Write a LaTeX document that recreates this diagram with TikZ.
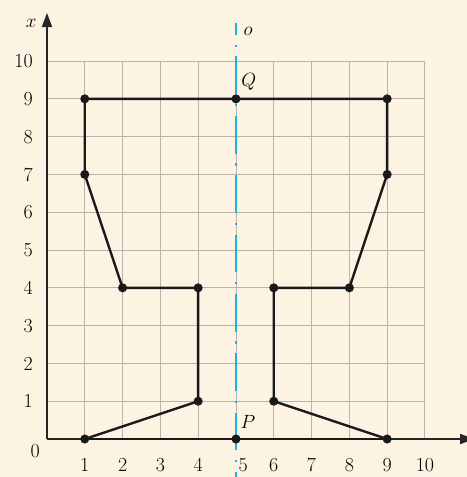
\documentclass[tikz,border=0pt]{standalone}
\usepackage{tikz}
\usetikzlibrary{arrows.meta, positioning, calc}
\definecolor{bgcream}{HTML}{FDF3E3}
\definecolor{gridgray}{HTML}{B8B4AC}
\definecolor{symcyan}{HTML}{1AB4E3}

\begin{document}
\begin{tikzpicture}[
    font=\fontsize{15}{17}\selectfont,
    gridline/.style={gridgray, line width=0.7pt},
    axisline/.style={black!85, line width=0.8pt, -{Triangle[length=0.37cm, width=0.27cm]}},
    outline/.style={black!90, line width=1.8pt, line join=round},
    vertex/.style={circle, fill=black!90, inner sep=0pt, minimum size=0.24cm},
    symline/.style={symcyan, line width=1.3pt, dash pattern=on 1cm off 0.26cm on 0.06cm off 0.25cm, dash phase=0.69cm},
    ticklabel/.style={inner sep=0pt}
]
    \fill[bgcream] (-1.243,-1.005) rectangle (11.11,11.615);
    \useasboundingbox (-1.243,-1.005) rectangle (11.11,11.615);
    % grid
    \foreach \i in {1,...,10} {
        \draw[gridline] (\i,0) -- (\i,10);
        \draw[gridline] (0,\i) -- (10,\i);
    }
    % axes
    \coordinate (origin) at (0,0);
    \coordinate (xtip) at (0,11.27);
    \coordinate (ytip) at (11.3,0);
    \draw[axisline] (origin) -- (xtip);
    \draw[axisline] (origin) -- (ytip);
    \node (xlabel) at (-0.42,11.0) {$x$};
    \foreach \i in {1,...,10}
        \node[ticklabel, anchor=east] (v\i) at (-0.37,\i) {\i};
    \foreach \i in {1,2,3,4,6,7,8,9,10}
        \node[ticklabel, anchor=base] (h\i) at (\i,-0.85) {\i};
    \node[ticklabel, anchor=base] (h5) at (5.19,-0.85) {5};
    \node[ticklabel] (zero) at (-0.31,-0.32) {0};
    % axis of symmetry
    \coordinate (otop) at (5,11.0);
    \coordinate (obot) at (5,-1.1);
    \draw[symline] (otop) -- (obot);
    \node (olabel) at (5.32,10.79) {$o$};
    % vertices
    \foreach \n/\p in {b1/{1,0}, p/{5,0}, b9/{9,0}, l1/{4,1}, r1/{6,1},
                       l4/{4,4}, l4o/{2,4}, r4/{6,4}, r4o/{8,4},
                       l7/{1,7}, r7/{9,7}, l9/{1,9}, q/{5,9}, r9/{9,9}}
        \coordinate (\n) at (\p);
    % outline
    \draw[outline] (b1) -- (p) -- (b9);
    \draw[outline] (b1) -- (l1) -- (l4) -- (l4o) -- (l7) -- (l9) -- (q) -- (r9) -- (r7) -- (r4o) -- (r4) -- (r1) -- (b9);
    \foreach \n in {b1, p, b9, l1, r1, l4, l4o, r4, r4o, l7, r7, l9, q, r9}
        \node[vertex] at (\n) {};
    \node (qlabel) at (5.34,9.44) {$Q$};
    \node (plabel) at (5.32,0.45) {$P$};
\end{tikzpicture}
\end{document}
